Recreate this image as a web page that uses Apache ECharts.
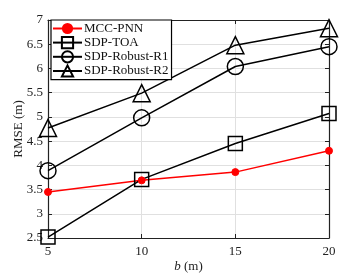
<!DOCTYPE html>
<html><head><meta charset="utf-8">
<script src="https://cdn.jsdelivr.net/npm/echarts@6/dist/echarts.min.js"></script>
<style>html,body{margin:0;padding:0;background:#fff}#c{width:364px;height:273px}</style>
</head><body><div id="c"></div>
<script>
const xVals = [5, 10, 15, 20];
const mccPnn = [3.45, 3.69, 3.86, 4.30];
const sdpToa = [2.52, 3.71, 4.45, 5.07];
const sdpR1 = [3.89, 4.98, 6.04, 6.45];
const sdpR2 = [4.77, 5.49, 6.48, 6.83];
const seriesNames = ['MCC-PNN', 'SDP-TOA', 'SDP-Robust-R1', 'SDP-Robust-R2'];

const font = "'Liberation Serif', 'Times New Roman', serif";
const chart = echarts.init(document.getElementById('c'));
function pairs(v){ return xVals.map((x,i)=>[x, v[i]]); }
function mk(name, data, color, symbol, size){
  return {
    name, type:'line', data: pairs(data), symbol, symbolSize: size,
    lineStyle:{color, width:1.5},
    itemStyle: color==='#ff0000' ? {color, borderColor:color} : {color:'rgba(0,0,0,0)', borderColor:color, borderWidth:1.5},
    emphasis:{disabled:true}, animation:false, z: 3
  };
}
const axCommon = {
  axisLine:{show:true, lineStyle:{color:'#222', width:1.2}},
  axisTick:{show:true, inside:true, length:4, lineStyle:{color:'#222'}},
};
chart.setOption({
  animation:false,
  grid:{left:48, right:35, top:20, bottom:35, containLabel:false, outerBoundsMode:'none'},
  legend:{
    data: seriesNames, orient:'vertical', left:51, top:20,
    backgroundColor:'#fff', borderColor:'#000', borderWidth:1.2, borderRadius:0,
    padding:[2,3,2,1], itemGap:1, itemWidth:29, itemHeight:14,
    textStyle:{fontFamily:font, fontSize:13, color:'#111', padding:[0,0,0,-3]},
    selectedMode:false
  },
  xAxis:[
    Object.assign({type:'value', min:5, max:20, interval:5, position:'bottom',
      axisLabel:{fontFamily:font, fontSize:13, color:'#222', margin:7},
      splitLine:{show:true, lineStyle:{color:'#e0e0e0', width:1}},
      name:'{i|b} (m)', nameLocation:'middle', nameGap:22, nameMoveOverlap:false,
      nameTextStyle:{fontFamily:font, fontSize:13, color:'#222', rich:{i:{fontFamily:font, fontStyle:'italic', fontSize:13}}}
    }, axCommon),
    Object.assign({type:'value', min:5, max:20, interval:5, position:'top',
      axisLabel:{show:false}, splitLine:{show:false}}, axCommon)
  ],
  yAxis:[
    Object.assign({type:'value', min:2.5, max:7, interval:0.5, position:'left',
      axisLabel:{fontFamily:font, fontSize:13, color:'#222', margin:5},
      splitLine:{show:true, lineStyle:{color:'#e0e0e0', width:1}},
      name:'RMSE (m)', nameLocation:'middle', nameGap:23, nameRotate:90, nameMoveOverlap:false,
      nameTextStyle:{fontFamily:font, fontSize:13, color:'#222'}
    }, axCommon),
    Object.assign({type:'value', min:2.5, max:7, interval:0.5, position:'right',
      axisLabel:{show:false}, splitLine:{show:false}}, axCommon)
  ],
  series:[
    mk(seriesNames[0], mccPnn, '#ff0000', 'circle', 7),
    mk(seriesNames[1], sdpToa, '#000', 'rect', 14),
    mk(seriesNames[2], sdpR1, '#000', 'circle', 16),
    mk(seriesNames[3], sdpR2, '#000', 'triangle', 17)
  ]
});
</script></body></html>
